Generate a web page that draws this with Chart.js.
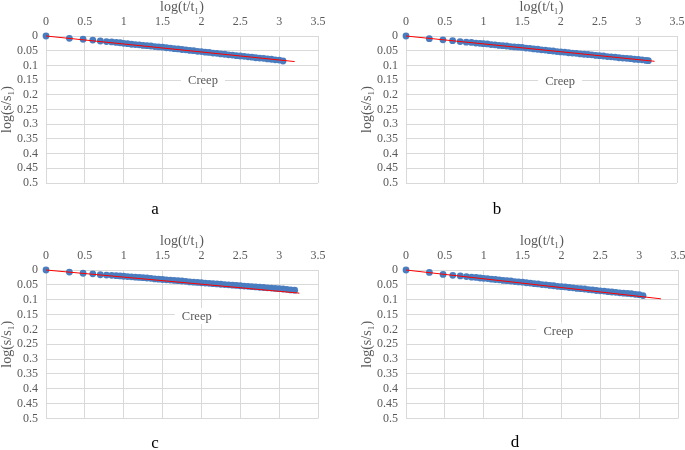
<!DOCTYPE html>
<html>
<head>
<meta charset="utf-8">
<script src="https://cdn.jsdelivr.net/npm/chart.js@4.4.1/dist/chart.umd.min.js"></script>
<style>
  html, body { margin: 0; padding: 0; background: #fff; overflow: hidden; width: 685px; height: 450px; }
  .panel { position: absolute; }
  .letter { position: absolute; font-family: "Liberation Serif", serif; font-size: 17px; color: #000; transform: translate(-50%, -50%); }
</style>
</head>
<body>
<div class="panel" style="left:0px;top:0px;width:342px;height:225px"><canvas id="chartA"></canvas></div>
<div class="panel" style="left:360px;top:0px;width:340px;height:225px"><canvas id="chartB"></canvas></div>
<div class="panel" style="left:0px;top:225px;width:342px;height:225px"><canvas id="chartC"></canvas></div>
<div class="panel" style="left:360px;top:225px;width:340px;height:225px"><canvas id="chartD"></canvas></div>
<div class="letter" style="left:155px;top:209px">a</div>
<div class="letter" style="left:497px;top:209px">b</div>
<div class="letter" style="left:155px;top:443px">c</div>
<div class="letter" style="left:515px;top:442px">d</div>
<script>
// tick labels
const xTicks = [0, 0.5, 1, 1.5, 2, 2.5, 3, 3.5];
const yTicks = [0, 0.05, 0.1, 0.15, 0.2, 0.25, 0.3, 0.35, 0.4, 0.45, 0.5];

// log(t/t1) values
const xBase = [0, 0.301, 0.477, 0.602, 0.699, 0.778, 0.845, 0.903, 0.954, 1.0,
  1.05, 1.10, 1.15, 1.20, 1.25, 1.30, 1.35, 1.40, 1.45, 1.50,
  1.55, 1.60, 1.65, 1.70, 1.75, 1.80, 1.85, 1.90, 1.95, 2.00,
  2.05, 2.10, 2.15, 2.20, 2.25, 2.30, 2.35, 2.40, 2.45, 2.50,
  2.55, 2.60, 2.65, 2.70, 2.75, 2.80, 2.85, 2.90, 2.95, 3.00, 3.05];
const xA = xBase;
const xB = xBase.concat([3.10, 3.13]);
const xC = xBase.concat([3.10, 3.15, 3.20]);
const xD = xBase;

// log(s/s1) values
const yA = [0, 0.008, 0.011, 0.014, 0.017, 0.019, 0.020, 0.022, 0.023, 0.025,
  0.026, 0.028, 0.029, 0.030, 0.032, 0.033, 0.034, 0.036, 0.037, 0.038,
  0.040, 0.041, 0.043, 0.044, 0.046, 0.047, 0.049, 0.050, 0.052, 0.053,
  0.055, 0.056, 0.058, 0.059, 0.061, 0.062, 0.064, 0.065, 0.067, 0.068,
  0.069, 0.071, 0.072, 0.074, 0.075, 0.076, 0.078, 0.079, 0.081, 0.082, 0.085];
const yB = [0, 0.009, 0.013, 0.016, 0.019, 0.021, 0.022, 0.024, 0.025, 0.026,
  0.027, 0.029, 0.030, 0.032, 0.033, 0.034, 0.036, 0.037, 0.038, 0.039,
  0.041, 0.042, 0.044, 0.045, 0.047, 0.048, 0.050, 0.051, 0.053, 0.054,
  0.055, 0.057, 0.058, 0.059, 0.061, 0.062, 0.063, 0.064, 0.066, 0.067,
  0.068, 0.070, 0.071, 0.072, 0.074, 0.075, 0.076, 0.077, 0.079, 0.080, 0.081,
  0.083, 0.084];
const yC = [0, 0.007, 0.011, 0.013, 0.016, 0.017, 0.018, 0.019, 0.020, 0.021,
  0.022, 0.023, 0.024, 0.025, 0.026, 0.027, 0.028, 0.030, 0.031, 0.032,
  0.033, 0.034, 0.035, 0.036, 0.037, 0.038, 0.040, 0.041, 0.042, 0.043,
  0.044, 0.045, 0.046, 0.047, 0.048, 0.049, 0.050, 0.051, 0.052, 0.053,
  0.054, 0.055, 0.056, 0.057, 0.058, 0.059, 0.060, 0.061, 0.062, 0.063, 0.064,
  0.065, 0.067, 0.068];
const yD = [0, 0.008, 0.015, 0.018, 0.020, 0.022, 0.024, 0.025, 0.027, 0.028,
  0.029, 0.031, 0.032, 0.033, 0.035, 0.036, 0.037, 0.039, 0.040, 0.041,
  0.043, 0.044, 0.046, 0.047, 0.049, 0.050, 0.052, 0.053, 0.055, 0.056,
  0.057, 0.059, 0.060, 0.062, 0.063, 0.064, 0.066, 0.067, 0.069, 0.070,
  0.071, 0.073, 0.074, 0.075, 0.077, 0.078, 0.079, 0.080, 0.082, 0.083, 0.086];

// linear trend lines (start, end)
const trendXA = [0, 3.2],  trendYA = [0, 0.087];
const trendXB = [0, 3.21], trendYB = [0, 0.086];
const trendXC = [0, 3.26], trendYC = [0, 0.078];
const trendXD = [0, 3.28], trendYD = [0, 0.097];

const seriesName = 'Creep';

const GRID = '#d9d9d9';
const TEXT = '#595959';
const SERIF = '"Liberation Serif", "Times New Roman", serif';

const toPoints = (xs, ys) => xs.map((x, i) => ({ x: x, y: ys[i] }));

// white boxed series label inside plot area
const labelPlugin = {
  id: 'seriesLabel',
  beforeDatasetsDraw(chart, args, opts) {
    const ctx = chart.ctx;
    const px = chart.scales.x.getPixelForValue(opts.x);
    const py = chart.scales.y.getPixelForValue(opts.y);
    ctx.save();
    ctx.fillStyle = '#fff';
    ctx.fillRect(px - 22, py - 8, 44, 16);
    ctx.fillStyle = TEXT;
    ctx.font = '12.5px ' + SERIF;
    ctx.textAlign = 'center';
    ctx.textBaseline = 'middle';
    ctx.fillText(opts.text, px, py + 1);
    ctx.restore();
  }
};

function makeChart(id, xs, ys, tx, ty, padding, labelPos) {
  new Chart(document.getElementById(id), {
    type: 'scatter',
    data: {
      datasets: [{
        label: 'trend',
        data: toPoints(tx, ty),
        showLine: true,
        borderColor: '#ff0000',
        borderWidth: 1,
        pointRadius: 0,
        clip: false
      }, {
        label: seriesName,
        data: toPoints(xs, ys),
        backgroundColor: '#4a7dc0',
        borderColor: '#4a7dc0',
        borderWidth: 0,
        pointRadius: 3.4,
        clip: false
      }]
    },
    options: {
      responsive: true,
      maintainAspectRatio: false,
      animation: false,
      layout: { padding: padding },
      plugins: {
        legend: { display: false },
        tooltip: { enabled: false },
        seriesLabel: { x: labelPos[0], y: labelPos[1], text: seriesName }
      },
      scales: {
        x: {
          type: 'linear',
          position: 'top',
          min: 0, max: 3.5,
          afterBuildTicks: s => { s.ticks = xTicks.map(v => ({ value: v })); },
          afterFit: s => { s.height = 36; },
          grid: { color: GRID, drawTicks: false },
          border: { color: GRID },
          ticks: { color: TEXT, font: { family: SERIF, size: 12 }, padding: 7, maxRotation: 0, autoSkip: false, callback: v => String(v) },
          title: { display: true, text: 'log(t/t\u2081)', color: TEXT, font: { family: SERIF, size: 14, lineHeight: 1 }, padding: 0 }
        },
        y: {
          type: 'linear',
          reverse: true,
          min: 0, max: 0.5,
          afterBuildTicks: s => { s.ticks = yTicks.map(v => ({ value: v })); },
          afterFit: s => { s.width = 46; },
          grid: { color: GRID, drawTicks: false },
          border: { color: GRID },
          ticks: { color: TEXT, font: { family: SERIF, size: 12 }, padding: 8, autoSkip: false, callback: v => String(v) },
          title: { display: true, text: 'log(s/s\u2081)', color: TEXT, font: { family: SERIF, size: 14, lineHeight: 1 }, padding: 0 }
        }
      }
    },
    plugins: [labelPlugin]
  });
}

makeChart('chartA', xA, yA, trendXA, trendYA, { top: 0, left: 0, right: 24, bottom: 42 }, [2.02, 0.15]);
makeChart('chartB', xB, yB, trendXB, trendYB, { top: 0, left: 0, right: 23, bottom: 42 }, [1.99, 0.152]);
makeChart('chartC', xC, yC, trendXC, trendYC, { top: 9, left: 0, right: 24, bottom: 31.5 }, [1.94, 0.155]);
makeChart('chartD', xD, yD, trendXD, trendYD, { top: 9, left: 0, right: 22, bottom: 31.5 }, [1.96, 0.205]);
</script>
</body>
</html>
